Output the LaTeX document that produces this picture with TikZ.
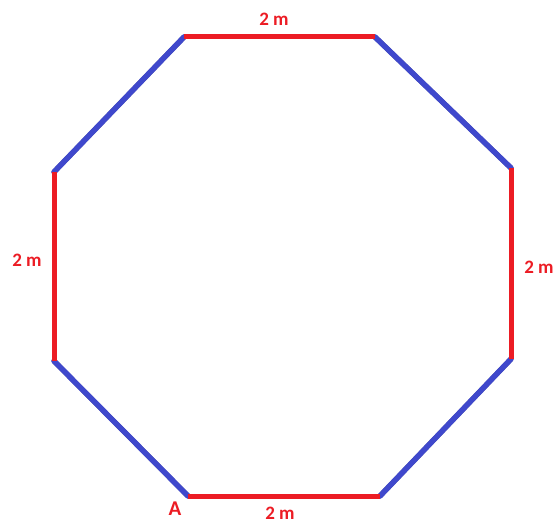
\documentclass[tikz,border=0pt]{standalone}
\usepackage{fontspec}
\setmainfont{Carlito}
\definecolor{edgered}{RGB}{236,28,36}
\definecolor{edgeblue}{RGB}{63,72,204}
\tikzset{
  rededge/.style={draw=edgered, line width=5pt},
  blueedge/.style={draw=edgeblue, line width=5.5pt, line cap=round},
  shadowedge/.style={draw=black!70, line width=5pt, line cap=round},
  lbl/.style={text=edgered, font=\fontsize{19}{22}\selectfont\bfseries, inner sep=0pt}
}
\begin{document}
\begin{tikzpicture}[x=1pt,y=-1pt]
\useasboundingbox (0,0) rectangle (555,524);
\coordinate (p1) at (184,37);
\coordinate (p2) at (375,37);
\coordinate (p3) at (511,168);
\coordinate (p4) at (511,359);
\coordinate (p5) at (380,496);
\coordinate (p6) at (188,496);
\coordinate (p7) at (54,361);
\coordinate (p8) at (54,172);
% shadows of blue edges
\begin{scope}[shift={(1,1)}]
\draw[shadowedge] (p2) -- (p3);
\draw[shadowedge] (p4) -- (p5);
\draw[shadowedge] (p6) -- (p7);
\draw[shadowedge] (p8) -- (p1);
\end{scope}
\draw[blueedge] (p2) -- (p3);
\draw[blueedge] (p4) -- (p5);
\draw[blueedge] (p6) -- (p7);
\draw[blueedge] (p8) -- (p1);
\draw[rededge] (p1) -- (p2);
\draw[rededge] (p3) -- (p4);
\draw[rededge] (p5) -- (p6);
\draw[rededge] (p7) -- (p8);
\node[lbl] (ltop) at (274,19) {2 m};
\node[lbl] (lleft) at (27,260) {2 m};
\node[lbl] (lright) at (539,267) {2 m};
\node[lbl] (lbot) at (280,513) {2 m};
\node[lbl, font=\fontsize{21}{24}\selectfont\bfseries] (la) at (175,509) {A};
\end{tikzpicture}
\end{document}
